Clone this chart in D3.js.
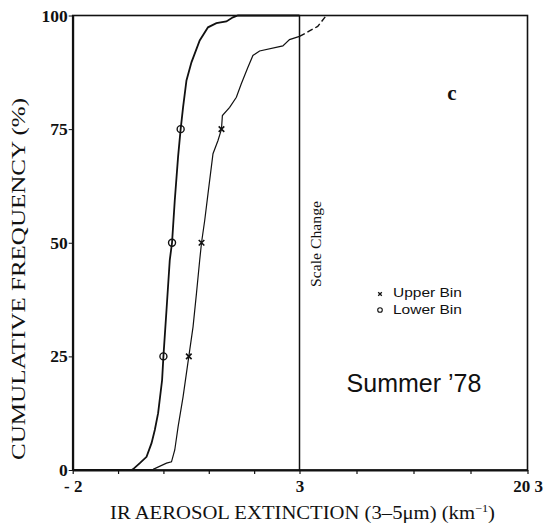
<!DOCTYPE html>
<html><head><meta charset="utf-8">
<script src="https://cdn.jsdelivr.net/npm/d3@7"></script>
<style>body{margin:0;background:#fff}svg{display:block}</style>
</head><body>
<svg id="c" width="545" height="530"></svg>
<script>
// ---- data ----
const xTickValues = [-2, -1, 0, 1, 2, 3, 7.325, 11.65, 15.975, 20.3];
const xTickLabels = {"-2": "- 2", "3": "3", "20.3": "20 3"};
const yTickValues = [0, 25, 50, 75, 100];
// Lower bin cumulative curve [extinction, %]
const lowerX = [-2, -0.70, -0.667, -0.52, -0.372, -0.262, -0.19, -0.117, -0.029, 0.0, 0.068, 0.14, 0.19, 0.25, 0.323, 0.38, 0.433, 0.508, 0.618, 0.80, 0.983, 1.168, 1.388, 1.533, 1.643, 3];
const lowerY = [0, 0, 0.2, 1.5, 2.9, 5.9, 8.8, 12.5, 19.8, 25, 35.2, 46.2, 50, 59.3, 68.9, 75, 79.8, 85.7, 89.7, 94.5, 97.4, 98.3, 98.7, 99.6, 100, 100];
// Upper bin cumulative curve
const upperX = [-2, -0.227, 0.068, 0.178, 0.25, 0.323, 0.433, 0.56, 0.653, 0.728, 0.80, 0.84, 0.91, 0.983, 1.093, 1.203, 1.28, 1.30, 1.46, 1.608, 1.717, 1.863, 1.973, 2.12, 2.633, 2.78, 3.0, 3.76, 4.38, 4.63, 4.95];
const upperY = [0, 0.15, 1.5, 1.8, 4.4, 9.5, 16.1, 25, 31.5, 38.8, 46.2, 50, 54.9, 60.8, 69.6, 72.5, 75, 78.0, 79.8, 82.0, 85.0, 88.6, 91.2, 92.2, 93.3, 94.7, 95.4, 96.6, 97.6, 98.5, 99.7];
const lowerMarksX = [0.0, 0.19, 0.38];
const upperMarksX = [0.56, 0.84, 1.28];
const markY = [25, 50, 75];

// ---- layout ----
const svg = d3.select("#c");
const pL = 72.7, pR = 527.5, pT = 15.5, pB = 470, pSplit = 299.5;
const x = d3.scaleLinear().domain([-2, 3, 20.3]).range([pL, pSplit, pR]);
const y = d3.scaleLinear().domain([0, 100]).range([pB, pT]);
const serif = "'Liberation Serif', 'DejaVu Serif', serif";
const sans = "'Liberation Sans', Arial, sans-serif";

// stretch a text horizontally (in its own frame) to a target width
function stretch(sel, base, target) {
  const w = sel.node().getComputedTextLength();
  sel.attr("transform", `${base} scale(${(target / w).toFixed(4)},1)`);
}

// frame
svg.append("rect").attr("x", pL).attr("y", pT).attr("width", pR - pL).attr("height", pB - pT)
  .attr("fill", "none").attr("stroke", "#111").attr("stroke-width", 1.6);
// scale change line
svg.append("line").attr("x1", x(3)).attr("x2", x(3)).attr("y1", pT).attr("y2", pB)
  .attr("stroke", "#111").attr("stroke-width", 1.5);

// axes
const xAxis = d3.axisBottom(x).tickValues(xTickValues).tickSizeInner(4).tickSizeOuter(0)
  .tickFormat(d => xTickLabels[String(d)] || "");
const gx = svg.append("g").attr("transform", `translate(0,${pB})`).call(xAxis);
gx.select(".domain").attr("stroke", "#111").attr("stroke-width", 2);
gx.selectAll(".tick line").attr("stroke", "#111").attr("stroke-width", 1.2);
gx.selectAll(".tick text").attr("font-family", serif).attr("font-size", 17).attr("font-weight", "bold")
  .attr("fill", "#111").attr("dy", "0.9em");

const yAxis = d3.axisLeft(y).tickValues(yTickValues).tickSizeInner(4).tickSizeOuter(0).tickFormat(d3.format("d"));
const gy = svg.append("g").attr("transform", `translate(${pL},0)`).call(yAxis);
gy.select(".domain").attr("stroke", "#111").attr("stroke-width", 2);
gy.selectAll(".tick line").attr("stroke", "#111");
gy.selectAll(".tick text").attr("font-family", serif).attr("font-size", 17.5).attr("font-weight", "bold")
  .attr("fill", "#111").attr("x", -5);

// titles
const yt = svg.append("text").attr("text-anchor", "middle").attr("font-family", serif)
  .attr("font-size", 19).attr("fill", "#111").text("CUMULATIVE FREQUENCY (%)");
stretch(yt, "translate(25,279) rotate(-90)", 362);
const xt = svg.append("text").attr("x", 0).attr("y", 0).attr("text-anchor", "start")
  .attr("font-family", serif).attr("font-size", 18.5).attr("fill", "#111");
xt.append("tspan").text("IR AEROSOL EXTINCTION (3\u20135\u03bcm) (km");
xt.append("tspan").attr("dy", -7).attr("font-size", 11).text("\u22121");
xt.append("tspan").attr("dy", 7).text(")");
stretch(xt, "translate(110,519)", 385);

// curves
const line = d3.line().x(d => x(d[0])).y(d => y(d[1])).curve(d3.curveLinear);
const lowerData = lowerX.map((v, i) => [v, lowerY[i]]);
const upperData = upperX.map((v, i) => [v, upperY[i]]);
svg.append("path").datum(lowerData).attr("d", line).attr("fill", "none")
  .attr("stroke", "#111").attr("stroke-width", 1.8);
svg.append("path").datum(upperData.filter(d => d[0] <= 3)).attr("d", line).attr("fill", "none")
  .attr("stroke", "#111").attr("stroke-width", 1.2);
svg.append("path").datum(upperData.filter(d => d[0] >= 3)).attr("d", line).attr("fill", "none")
  .attr("stroke", "#111").attr("stroke-width", 1.4).attr("stroke-dasharray", "6,3");

// markers
svg.selectAll("circle.low").data(lowerMarksX).enter().append("circle")
  .attr("cx", d => x(d)).attr("cy", (d, i) => y(markY[i])).attr("r", 3.5)
  .attr("fill", "none").attr("stroke", "#111").attr("stroke-width", 1.4);
const cross = d3.symbol().type(d3.symbolX).size(22);
svg.selectAll("path.up").data(upperMarksX).enter().append("path")
  .attr("d", cross).attr("transform", (d, i) => `translate(${x(d)},${y(markY[i])})`)
  .attr("stroke", "#111").attr("stroke-width", 1.6).attr("fill", "none");

// annotations
svg.append("text").attr("x", 452).attr("y", 100).attr("text-anchor", "middle")
  .attr("font-family", serif).attr("font-size", 21).attr("font-weight", "bold").attr("fill", "#111").text("c");
const sc = svg.append("text").attr("text-anchor", "middle")
  .attr("font-family", serif).attr("font-size", 14).attr("fill", "#111").text("Scale Change");
stretch(sc, "translate(321,244) rotate(-90)", 86);
// legend
svg.append("path").attr("d", d3.symbol().type(d3.symbolX).size(10)).attr("transform", "translate(380,294)")
  .attr("stroke", "#111").attr("stroke-width", 1.3).attr("fill", "none");
const l1 = svg.append("text").attr("font-family", sans).attr("font-size", 13.5)
  .attr("fill", "#111").text("Upper Bin");
stretch(l1, "translate(393,297)", 69);
svg.append("circle").attr("cx", 380).attr("cy", 310).attr("r", 2.3).attr("fill", "none")
  .attr("stroke", "#111").attr("stroke-width", 1.1);
const l2 = svg.append("text").attr("font-family", sans).attr("font-size", 13.5)
  .attr("fill", "#111").text("Lower Bin");
stretch(l2, "translate(393,314)", 69);
svg.append("text").attr("x", 414).attr("y", 392).attr("text-anchor", "middle").attr("font-family", sans)
  .attr("font-size", 25).attr("fill", "#111").text("Summer \u201978");
</script>
</body></html>
